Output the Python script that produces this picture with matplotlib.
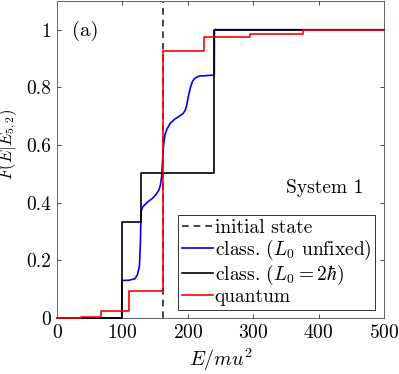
import matplotlib
matplotlib.use("Agg")
import matplotlib.pyplot as plt
import numpy as np

plt.rcParams['font.family'] = 'serif'
plt.rcParams['font.serif'] = ['cmr10', 'DejaVu Serif']
plt.rcParams['mathtext.fontset'] = 'cm'
plt.rcParams['axes.formatter.use_mathtext'] = True
plt.rcParams['axes.unicode_minus'] = False

# Data
E_init = 162

# classical, L0 = 2 hbar (step function)
black_E = [0, 99, 99, 128.5, 128.5, 240.5, 240.5, 500]
black_F = [0, 0, 0.333, 0.333, 0.503, 0.503, 1.0, 1.0]

# classical, L0 unfixed
blue_E = [0, 99, 99.2, 110, 119, 123, 126, 127.5, 128.5, 131, 135, 140, 146, 152,
          156, 158, 160, 161, 162, 163, 165, 168, 173, 180, 187, 193, 196, 198,
          201, 204, 207, 210, 214, 219, 225, 235, 240.5, 240.7, 500]
blue_F = [0, 0, 0.13, 0.131, 0.136, 0.15, 0.18, 0.26, 0.37, 0.385, 0.395, 0.405,
          0.415, 0.43, 0.445, 0.46, 0.49, 0.53, 0.57, 0.6, 0.635, 0.655, 0.675,
          0.69, 0.7, 0.71, 0.72, 0.735, 0.77, 0.8, 0.82, 0.83, 0.836, 0.84, 0.84,
          0.842, 0.842, 1.0, 1.0]

# quantum
red_E = [0, 37, 37, 68, 68, 110, 110, 162, 162, 224, 224, 295, 295, 376, 376, 500]
red_F = [0, 0, 0.004, 0.004, 0.023, 0.023, 0.093, 0.093, 0.927, 0.927, 0.975,
         0.975, 0.985, 0.985, 1.0, 1.0]

fig = plt.figure(figsize=(3.99, 3.74), dpi=100)
ax = fig.add_axes([0.1429, 0.1497, 0.8195, 0.848])

axc = (0.15, 0.15, 0.15)
l1, = ax.plot([E_init, E_init], [0, 1.1], '--', color=axc, lw=1.2, dashes=(4, 3),
              label='initial state')
l2, = ax.plot(blue_E, blue_F, color='blue', lw=1.2, label=r'class. ($L_0$ unfixed)',
              clip_on=False, zorder=3)
l3, = ax.plot(black_E, black_F, color='black', lw=1.2, label=r'class. ($L_0=2\hbar$)',
              clip_on=False, zorder=3)
l4, = ax.plot(red_E, red_F, color='red', lw=1.2, label='quantum',
              clip_on=False, zorder=4)

ax.set_xlim(0, 500)
ax.set_ylim(0, 1.1)
ax.set_xticks([0, 100, 200, 300, 400, 500])
ax.set_yticks([0, 0.2, 0.4, 0.6, 0.8, 1])
ax.set_yticklabels(['0', '0.2', '0.4', '0.6', '0.8', '1'])
ax.tick_params(direction='in', top=True, right=True, labelsize=14, colors=axc,
               length=3, width=0.6, labelcolor='black', pad=4)
for s in ax.spines.values():
    s.set_color((0.4, 0.4, 0.4))
    s.set_linewidth(0.7)

ax.set_xlabel(r'$E/mu^2$', fontsize=14.5)
ax.xaxis.set_label_coords(0.5, -0.09)
ax.set_ylabel(r'$F(E|E_{5,2})$', fontsize=12)
ax.yaxis.set_label_coords(-0.115, 0.547)

ax.text(0.045, 0.905, '(a)', transform=ax.transAxes, fontsize=15, va='center')
ax.text(0.936, 0.409, 'System 1', transform=ax.transAxes, fontsize=14,
        ha='right', va='center')

leg = ax.legend(handles=[l1, l2, l3, l4], loc='lower right',
                bbox_to_anchor=(0.985, 0.013), fontsize=14, handlelength=1.6,
                handletextpad=0.1, borderpad=0.2, labelspacing=0.05,
                borderaxespad=0.2, fancybox=False, framealpha=1)
leg.get_frame().set_edgecolor((0.2, 0.2, 0.2))
leg.get_frame().set_linewidth(0.7)

fig.savefig('out.png', dpi=100)
